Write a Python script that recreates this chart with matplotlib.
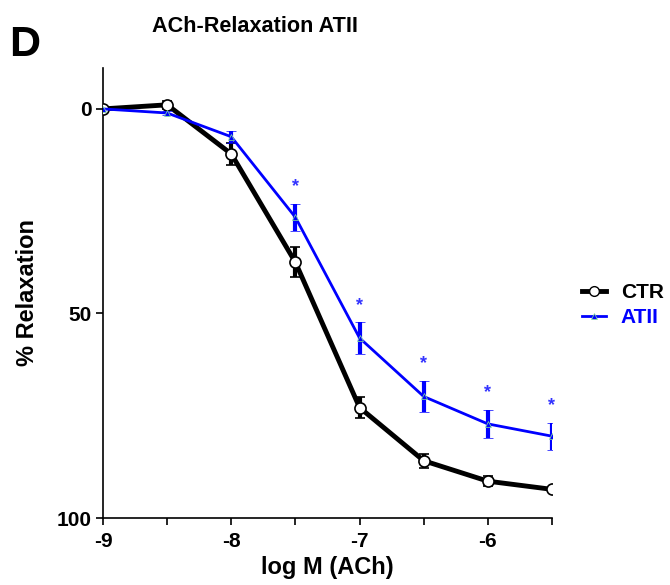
import matplotlib
matplotlib.use("Agg")
import matplotlib.pyplot as plt
from matplotlib.lines import Line2D

plt.rcParams['font.family'] = ['Liberation Sans', 'DejaVu Sans']
plt.rcParams['font.weight'] = 'bold'
plt.rcParams['axes.unicode_minus'] = False

# data
log_m = [-9, -8.5, -8, -7.5, -7, -6.5, -6, -5.5]
ctr_mean = [0, -1, 11, 37.5, 73, 86, 91, 93]
ctr_err = [0, 1, 2.7, 3.7, 2.5, 1.7, 1.2, 0.5]
atii_mean = [0, 1, 6.8, 26.5, 56, 70.3, 77, 80]
atii_err = [0, 0.5, 1.5, 3.3, 3.8, 3.8, 3.5, 3.3]
signif = [False, False, False, True, True, True, True, True]

fig = plt.figure(figsize=(6.7, 5.85), dpi=100)
ax = fig.add_axes([103 / 670, 1 - 518 / 585, 449 / 670, 450 / 585])

ax.errorbar(log_m, ctr_mean, yerr=ctr_err, color='black', lw=3.5, ecolor='black',
            elinewidth=3, capsize=3.5, capthick=3, marker='o', ms=8,
            mfc='white', mec='black', mew=1.2, zorder=3)
ax.errorbar(log_m, atii_mean, yerr=atii_err, color='#0000ff', lw=2, ecolor='#0000ff',
            elinewidth=3, capsize=3.5, capthick=3, marker='^', ms=5,
            mfc='#0000ff', mec='#90ee90', mew=0.5, zorder=4)

for x, m, e, s in zip(log_m, atii_mean, atii_err, signif):
    if s:
        ax.text(x, m - e - 4.2, '*', color='#3333ff', fontsize=13, ha='center', va='center')

ax.set_xlim(-9, -5.5)
ax.set_ylim(100, -10)
ax.set_xticks([-9, -8, -7, -6])
ax.set_xticks([-8.5, -7.5, -6.5, -5.5], minor=True)
ax.set_yticks([0, 50, 100])
ax.tick_params(axis='both', labelsize=15, width=1.2, length=5, direction='out')
ax.tick_params(axis='x', pad=5)
ax.tick_params(axis='y', pad=3)
ax.tick_params(axis='x', which='minor', width=1.2, length=5)
for lbl in ax.get_xticklabels() + ax.get_yticklabels():
    lbl.set_fontweight('bold')

for side in ['top', 'right']:
    ax.spines[side].set_visible(False)
for side in ['left', 'bottom']:
    ax.spines[side].set_linewidth(1.2)

ax.set_xlabel('log M (ACh)', fontsize=17, fontweight='bold', labelpad=4)
ax.set_ylabel('% Relaxation', fontsize=17, fontweight='bold', labelpad=13)

fig.text(255 / 670, 1 - 27 / 585, 'ACh-Relaxation ATII', fontsize=15.6, fontweight='bold',
         ha='center', va='center')
fig.text(9 / 670, 1 - 45 / 585, 'D', fontsize=31, fontweight='bold', ha='left', va='center')

handles = [
    Line2D([], [], color='black', lw=3.5, marker='o', ms=7, mfc='white', mec='black'),
    Line2D([], [], color='#0000ff', lw=2, marker='^', ms=5, mfc='#0000ff', mec='#90ee90', mew=0.5),
]
leg = fig.legend(handles, ['CTR', 'ATII'], loc='center left', bbox_to_anchor=(576 / 670, 1 - 305 / 585),
                 frameon=False, fontsize=15, handlelength=1.15, handletextpad=0.7,
                 labelspacing=0.3, borderaxespad=0, borderpad=0.3)
for t, c in zip(leg.get_texts(), ['black', '#0000ff']):
    t.set_color(c)
    t.set_fontweight('bold')

fig.savefig('out.png', dpi=100)
